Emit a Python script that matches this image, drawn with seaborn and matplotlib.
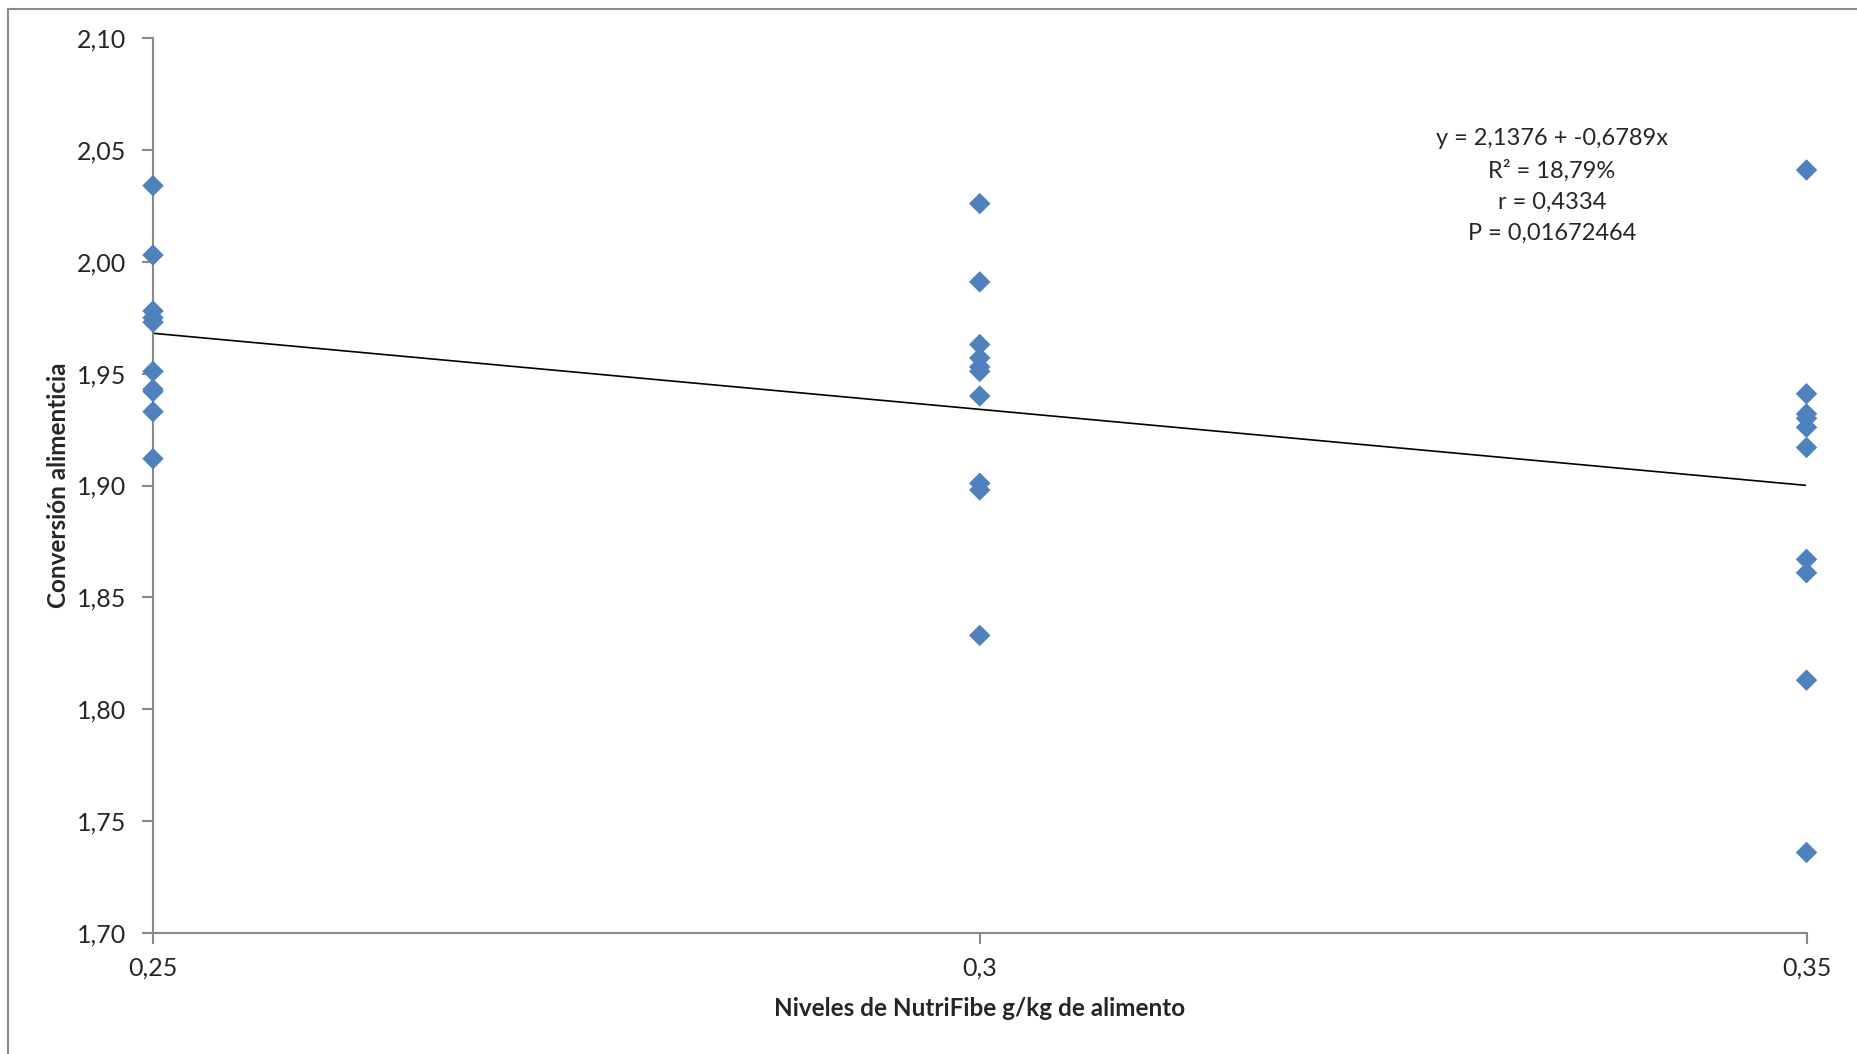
import numpy as np
import pandas as pd
import matplotlib
matplotlib.use('Agg')
import matplotlib.pyplot as plt
import seaborn as sns
from matplotlib.ticker import FuncFormatter, FixedLocator
from matplotlib.lines import Line2D


# niveles de NutriFibe (g/kg) y conversion alimenticia
niveles = [0.25, 0.30, 0.35]
conv_025 = [2.034, 2.003, 1.978, 1.975, 1.973, 1.951, 1.943, 1.942, 1.933, 1.912]
conv_030 = [2.026, 1.991, 1.963, 1.957, 1.953, 1.951, 1.940, 1.901, 1.898, 1.833]
conv_035 = [2.041, 1.941, 1.932, 1.930, 1.926, 1.917, 1.867, 1.861, 1.813, 1.736]

y_ticks = [1.70, 1.75, 1.80, 1.85, 1.90, 1.95, 2.00, 2.05, 2.10]
stats_text = 'y = 2,1376 + -0,6789x\nR² = 18,79%\nr = 0,4334\nP = 0,01672464'
XLABEL = 'Niveles de NutriFibe g/kg de alimento'
YLABEL = 'Conversión alimenticia'


df = pd.DataFrame({
	'nivel': np.repeat(niveles, 10),
	'conv': conv_025 + conv_030 + conv_035,
})

sns.set_style('white')
plt.rcParams['font.family'] = ['Lato', 'DejaVu Sans']

fig = plt.figure(figsize = (18.58, 10.54), dpi = 100)
ax = fig.add_axes([153/1858, 1 - 933/1054, (1806.5 - 153)/1858, (933 - 38)/1054])

sns.regplot(data = df, x = 'nivel', y = 'conv', scatter = False, ci = None, ax = ax,
			line_kws = {'color': 'black', 'lw': 1.2})
sns.scatterplot(data = df, x = 'nivel', y = 'conv', marker = 'D', s = 120, color = '#4F81BD',
				edgecolor = 'none', ax = ax, zorder = 3, clip_on = False)

ax.set_xlim(0.25, 0.35)
ax.set_ylim(1.70, 2.10)
ax.xaxis.set_major_locator(FixedLocator(niveles))
ax.yaxis.set_major_locator(FixedLocator(y_ticks))
ax.xaxis.set_major_formatter(FuncFormatter(lambda v, p: ('%g' % round(v, 2)).replace('.', ',')))
ax.yaxis.set_major_formatter(FuncFormatter(lambda v, p: ('%.2f' % v).replace('.', ',')))

for s in ['top', 'right']:
	ax.spines[s].set_visible(False)
for s in ['left', 'bottom']:
	ax.spines[s].set_color('#898989')
	ax.spines[s].set_linewidth(1.5)
ax.tick_params(axis = 'both', direction = 'out', length = 8, width = 1.5, color = '#898989',
			   labelsize = 18, pad = 11, left = True, bottom = True)
ax.tick_params(axis = 'x', pad = 9)

ax.set_xlabel(XLABEL, fontsize = 17.5, fontweight = 'bold')
ax.set_ylabel(YLABEL, fontsize = 17.5, fontweight = 'bold')
ax.xaxis.set_label_coords(0.5, (933 - 1009)/895)
ax.xaxis.label.set_va('center')
ax.yaxis.set_label_coords((59 - 153)/1653.5, 0.5)
ax.yaxis.label.set_va('center')

ax.text((1552 - 153)/1653.5, (933 - 186)/895, stats_text, transform = ax.transAxes,
		ha = 'center', va = 'center', fontsize = 17, linespacing = 1.58)

# marco exterior del grafico
fig.add_artist(Line2D([8/1858, 8/1858], [0, 1 - 8.5/1054], transform = fig.transFigure,
					  color = '#8c8c8c', lw = 1.5))
fig.add_artist(Line2D([8/1858, 1], [1 - 8.5/1054, 1 - 8.5/1054], transform = fig.transFigure,
					  color = '#8c8c8c', lw = 1.5))

fig.savefig('out.png', dpi = 100)
plt.close()
